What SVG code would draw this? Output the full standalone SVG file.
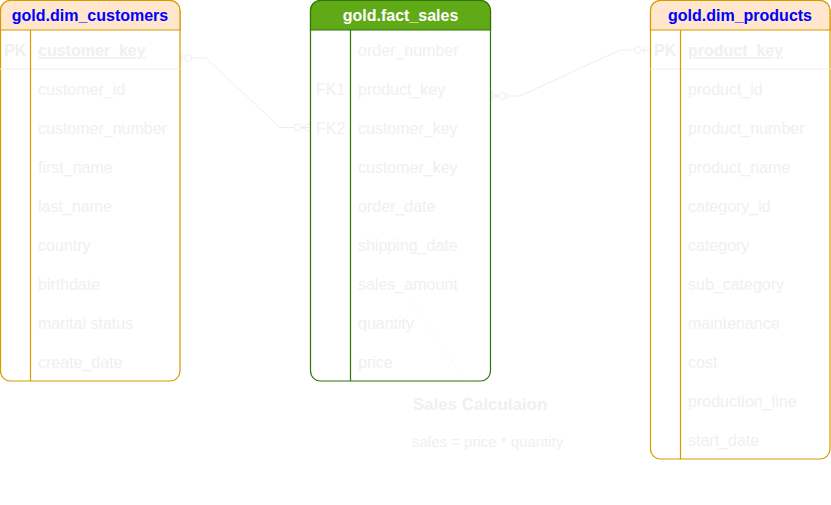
<svg xmlns="http://www.w3.org/2000/svg" width="831" height="505" viewBox="0 0 831 505">
<style>
text{font-family:"Liberation Sans",Arial,sans-serif;font-size:16px;fill:#f0f0f0}
.ttl{font-weight:bold;text-anchor:middle}
.blue{fill:#0000ff}
.wht{fill:#ffffff}
.key{font-weight:bold}
.ul{text-decoration:underline;font-weight:bold}
.box{fill:#ffffff}
.org{stroke:#d79b00;stroke-width:1.2}
.grn{stroke:#2d7600;stroke-width:1.2}
.sep{stroke:#eeeeee;stroke-width:1}
.con{fill:none;stroke:#eeeeee;stroke-width:1}
.circ{fill:#ffffff;stroke:#eeeeee;stroke-width:1}
.nt{font-weight:bold;font-size:16.9px}
.ns{font-size:15px}
</style>
<rect width="831" height="505" fill="#ffffff"/>
<g id="connectors">
  <path class="con" d="M180 58 H206 L280 127.5 H310"/>
  <line class="con" x1="182" y1="54" x2="182" y2="62"/>
  <circle class="circ" cx="188.5" cy="58" r="3.5"/>
  <circle class="circ" cx="297.5" cy="127.5" r="3.5"/>
  <path class="con" d="M310 123.5 L301 127.5 L310 131.5"/>
  <path class="con" d="M490 96 H520 L620 50 H650"/>
  <path class="con" d="M490 92 L499 96 L490 100"/>
  <circle class="circ" cx="502.5" cy="96" r="3.5"/>
  <circle class="circ" cx="638" cy="50" r="3.5"/>
  <line class="con" x1="644" y1="46" x2="644" y2="54"/>
</g>
<g id="dim_customers">
  <rect class="box org" x="0.5" y="0.5" width="179.5" height="380.5" rx="10"/>
  <path d="M0.5 30 V10.5 A10 10 0 0 1 10.5 0.5 H170 A10 10 0 0 1 180 10.5 V30 Z" fill="#ffe6cc" class="org"/>
  <line class="sep" x1="0" y1="69" x2="180" y2="69"/>
  <line class="org" x1="30.5" y1="30" x2="30.5" y2="381"/>
  <text class="ttl blue" x="90" y="21">gold.dim_customers</text>
  <text class="key" x="4" y="56">PK</text>
  <text class="ul" x="38" y="56">customer_key</text>
  <text x="38" y="95">customer_id</text>
  <text x="38" y="134">customer_number</text>
  <text x="38" y="173">first_name</text>
  <text x="38" y="212">last_name</text>
  <text x="38" y="251">country</text>
  <text x="38" y="290">birthdate</text>
  <text x="38" y="329">marital status</text>
  <text x="38" y="368">create_date</text>
</g>
<g id="fact_sales">
  <rect class="box grn" x="310.5" y="0.5" width="180" height="380.5" rx="10"/>
  <path d="M310.5 30 V10.5 A10 10 0 0 1 320.5 0.5 H480.5 A10 10 0 0 1 490.5 10.5 V30 Z" fill="#60a917" class="grn"/>
  <line class="grn" x1="350.5" y1="30" x2="350.5" y2="381"/>
  <text class="ttl wht" x="400.5" y="21">gold.fact_sales</text>
  <text x="358" y="56">order_number</text>
  <text x="316" y="95">FK1</text>
  <text x="358" y="95">product_key</text>
  <text x="316" y="134">FK2</text>
  <text x="358" y="134">customer_key</text>
  <text x="358" y="173">customer_key</text>
  <text x="358" y="212">order_date</text>
  <text x="358" y="251">shipping_date</text>
  <text x="358" y="290">sales_amount</text>
  <text x="358" y="329">quantity</text>
  <text x="358" y="368">price</text>
</g>
<g id="dim_products">
  <rect class="box org" x="650.5" y="0.5" width="179.5" height="458.5" rx="10"/>
  <path d="M650.5 30 V10.5 A10 10 0 0 1 660.5 0.5 H820 A10 10 0 0 1 830 10.5 V30 Z" fill="#ffe6cc" class="org"/>
  <line class="sep" x1="650" y1="69" x2="831" y2="69"/>
  <line class="org" x1="680.5" y1="30" x2="680.5" y2="459"/>
  <text class="ttl blue" x="740" y="21">gold.dim_products</text>
  <text class="key" x="654" y="56">PK</text>
  <text class="ul" x="688" y="56">product_key</text>
  <text x="688" y="95">product_id</text>
  <text x="688" y="134">product_number</text>
  <text x="688" y="173">product_name</text>
  <text x="688" y="212">category_id</text>
  <text x="688" y="251">category</text>
  <text x="688" y="290">sub_category</text>
  <text x="688" y="329">maintenance</text>
  <text x="688" y="368">cost</text>
  <text x="688" y="407">production_line</text>
  <text x="688" y="446">start_date</text>
</g>
<g id="sales_note">
  <line x1="413" y1="303" x2="468" y2="385" stroke="#eeeeee" stroke-width="1.2" stroke-dasharray="1 4"/>
  <text class="nt" x="413" y="410">Sales Calculaion</text>
  <text class="ns" x="412" y="447">sales = price * quantity</text>
</g>
</svg>
